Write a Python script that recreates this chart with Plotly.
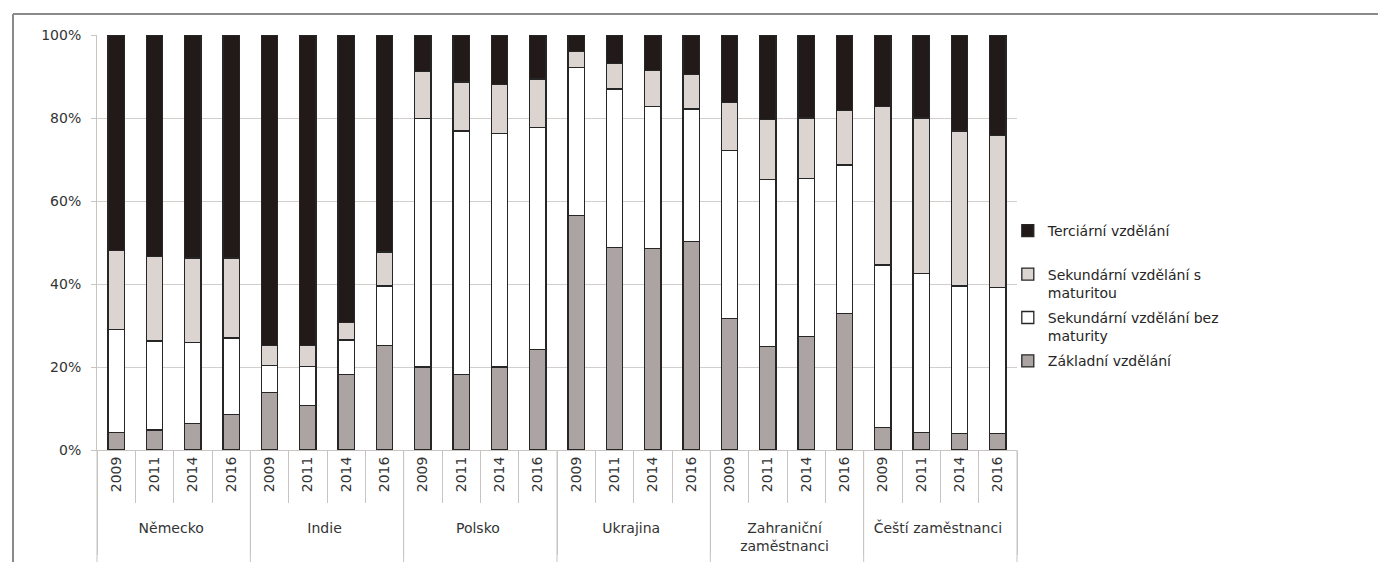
import plotly.graph_objects as go

groups = ["Německo", "Indie", "Polsko", "Ukrajina", "Zahraniční<br>zaměstnanci", "Čeští zaměstnanci"]
years = ["2009", "2011", "2014", "2016"]

# shares in percent per bar (group order x year order)
zakladni = [4.3, 4.8, 6.4, 8.5,
            13.8, 10.7, 18.2, 25.2,
            20.0, 18.2, 20.0, 24.2,
            56.5, 48.8, 48.5, 50.2,
            31.7, 24.9, 27.3, 32.9,
            5.5, 4.3, 4.0, 4.0]
sek_bez = [24.8, 21.5, 19.5, 18.5,
           6.5, 9.4, 8.3, 14.3,
           59.8, 58.7, 56.2, 53.5,
           35.7, 38.2, 34.2, 32.0,
           40.4, 40.2, 38.2, 35.8,
           39.1, 38.3, 35.5, 35.2]
sek_s = [18.9, 20.4, 20.4, 19.3,
         4.8, 5.0, 4.2, 8.2,
         11.4, 11.8, 11.8, 11.7,
         3.8, 6.2, 8.7, 8.2,
         11.7, 14.6, 14.5, 13.1,
         38.1, 37.4, 37.4, 36.6]
terciarni = [52.0, 53.3, 53.7, 53.7,
             74.9, 74.9, 69.3, 52.3,
             8.8, 11.3, 12.0, 10.6,
             4.0, 6.8, 8.6, 9.6,
             16.2, 20.3, 20.0, 18.2,
             17.3, 20.0, 23.1, 24.2]

series_names = ["Základní vzdělání<br>\u00a0", "Sekundární vzdělání bez<br>maturity",
                "Sekundární vzdělání s<br>maturitou", "Terciární vzdělání<br>\u00a0"]
series_values = [zakladni, sek_bez, sek_s, terciarni]
series_colors = ["#aba4a2", "#ffffff", "#dbd4d1", "#221a18"]

PAD = "\u00a0\u00a0\u00a0"
x_outer = [g for g in groups for _ in years]
x_inner = [PAD + y for _ in groups for y in years]

FONT = "DejaVu Sans"
fig = go.Figure()
n = len(series_names)
for i, (name, vals, col) in enumerate(zip(series_names, series_values, series_colors)):
    fig.add_trace(go.Bar(
        x=[x_outer, x_inner], y=[v / 100 for v in vals], name=name,
        legendgroup=f"g{i}", legendrank=n - i,
        marker=dict(color=col, line=dict(color="#262626", width=1.3)),
    ))

divider_shapes = [
    dict(type="line", xref="paper", yref="paper", x0=k / 6, x1=k / 6,
         y0=0, y1=-0.3, line=dict(color="#c8c4c2", width=1))
    for k in range(7)
]

fig.update_layout(
    barmode="stack", bargap=0.58,
    width=1378, height=554,
    margin=dict(l=89, r=369, t=27, b=112),
    paper_bgcolor="white", plot_bgcolor="white",
    font=dict(family=FONT, size=14, color="#333333"),
    showlegend=True,
    legend=dict(x=0.99, y=0.566, xanchor="left", yanchor="top",
                traceorder="grouped", font=dict(size=14, color="#262626"),
                itemwidth=30, valign="top", tracegroupgap=4,
                bgcolor="rgba(0,0,0,0)"),
    shapes=[
        dict(type="line", xref="paper", yref="paper", x0=-0.0913, x1=1.5,
             y0=1.0506, y1=1.0506, line=dict(color="#8a8a8a", width=2)),
        dict(type="line", xref="paper", yref="paper", x0=-0.0913, x1=-0.0913,
             y0=1.0506, y1=-0.4, line=dict(color="#8a8a8a", width=2)),
    ] + divider_shapes,
)
fig.update_yaxes(range=[0, 1], dtick=0.2, tickformat=".0%",
                 showgrid=True, gridcolor="#d2cecc", gridwidth=1,
                 showline=True, linecolor="#c8c4c2", linewidth=1,
                 ticks="outside", ticklen=5, tickcolor="#c8c4c2",
                 ticklabelstandoff=7, automargin=False,
                 tickfont=dict(size=14, color="#333333"), zeroline=False)
fig.update_xaxes(type="multicategory", tickangle=-90, automargin=False,
                 showline=True, linecolor="#c8c4c2", linewidth=1,
                 ticks="outside", ticklen=52, tickcolor="#c8c4c2",
                 showdividers=True, dividercolor="#c8c4c2", dividerwidth=1,
                 tickfont=dict(size=14, color="#333333"))

fig.write_html("out.html")
